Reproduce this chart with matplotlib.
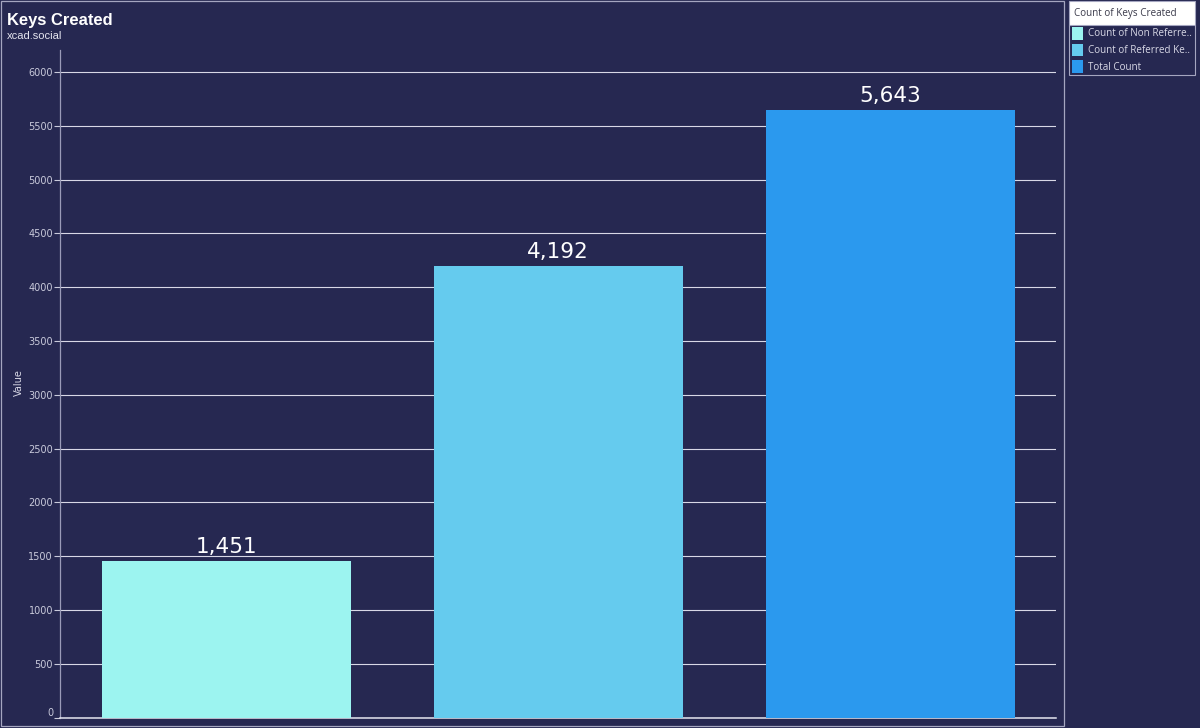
import matplotlib
matplotlib.use("Agg")
import matplotlib.pyplot as plt
from matplotlib.patches import Rectangle

# data
categories = ["Count of Non Referred Keys", "Count of Referred Keys", "Total Count"]
values = [1451, 4192, 5643]
value_labels = ["1,451", "4,192", "5,643"]
yticks = list(range(0, 6001, 500))
legend_title = "Count of Keys Created"
legend_names = ["Count of Non Referre..", "Count of Referred Ke..", "Total Count"]

bg = "#262851"
colors = ["#9cf4f0", "#65cbee", "#2b99ee"]
W, H = 1200, 728

plt.rcParams["font.family"] = ["Liberation Sans", "DejaVu Sans"]

fig = plt.figure(figsize=(12, 7.28), dpi=100, facecolor=bg)


def box(x, y, w, h, **kw):
    # pixel box measured from the top left of the figure
    fig.add_artist(Rectangle((x / W, 1 - (y + h) / H), w / W, h / H,
                             transform=fig.transFigure, **kw))


ax = fig.add_axes([60 / W, 1 - 717.5 / H, 996 / W, 667.5 / H])
ax.set_facecolor(bg)
ax.bar(range(3), values, width=0.75, color=colors, zorder=3)
ax.set_xlim(-0.5, 2.5)
ax.set_ylim(0, 6204)
ax.set_yticks(yticks)
ax.set_xticks([])
ax.grid(axis="y", color="#d8d8e6", linewidth=0.8, zorder=1)
ax.tick_params(axis="y", colors="#c9cadb", labelsize=7, length=4, width=0.8, pad=1)
for lab in ax.get_yticklabels():
    lab.set_family("DejaVu Sans")
# the bottom label sits above its tick in the original
ax.get_yticklabels()[0].set_verticalalignment("bottom")
for s in ["top", "right"]:
    ax.spines[s].set_visible(False)
ax.spines["left"].set_color("#9a9bb8")
ax.spines["left"].set_linewidth(0.9)
ax.spines["bottom"].set_color("#e4e4ee")
ax.spines["bottom"].set_linewidth(1.1)

fig.text(19 / W, 1 - 383 / H, "Value", color="#d8d8e6", fontsize=7,
         family="DejaVu Sans", rotation=90, ha="center", va="center")

for i, v in enumerate(values):
    ax.annotate(value_labels[i], (i, v), xytext=(0, 3), textcoords="offset points",
                ha="center", va="bottom", color="white", fontsize=15.5,
                family="DejaVu Sans", zorder=4)

# title block
fig.text(7 / W, 1 - 20 / H, "Keys Created", color="white", fontsize=11.9,
         fontweight="bold", va="center")
fig.text(7 / W, 1 - 36 / H, "xcad.social", color="#e4e4ee", fontsize=8, va="center")

# outer frame of the chart
box(0.5, 0.5, 1063, 725.5, fill=False, edgecolor="#a5a6c0", linewidth=0.9)

# legend panel
box(1068.5, 0.5, 126, 25, facecolor="white", edgecolor="#a5a6c0", linewidth=0.8)
box(1068.5, 25, 126, 50, facecolor=bg, edgecolor="#a5a6c0", linewidth=0.8)
fig.text(1074 / W, 1 - 13.5 / H, legend_title, color="#3a3a4a", fontsize=7.1,
         family="Open Sans", va="center")
for i, name in enumerate(legend_names):
    y = 33.5 + i * 16.5
    box(1072, y - 6, 11, 12, facecolor=colors[i], edgecolor="none")
    fig.text(1087.5 / W, 1 - (y + 0.5) / H, name, color="#d8d8e6", fontsize=7.1,
             family="Open Sans", va="center")

fig.savefig("out.png", dpi=100, facecolor=bg)
